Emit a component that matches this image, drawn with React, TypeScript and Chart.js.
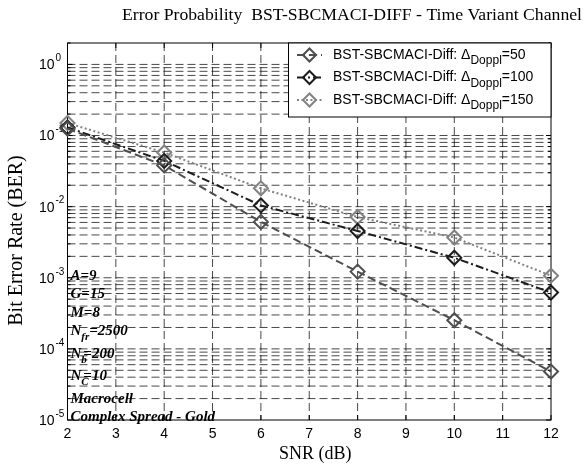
import { useEffect, useRef } from 'react';
import { Chart, registerables } from 'chart.js';

Chart.register(...registerables);

// ---- data ----
const snrDb = [2, 4, 6, 8, 10, 12];
const berDoppl50 = [0.125, 0.038, 0.0061, 0.00122, 0.000253, 0.000048];
const berDoppl100 = [0.13, 0.044, 0.0104, 0.00455, 0.00191, 0.00062];
const berDoppl150 = [0.15, 0.0577, 0.0181, 0.00715, 0.00368, 0.00107];
const dopplerValues = [50, 100, 150];
const xTickValues = [2, 3, 4, 5, 6, 7, 8, 9, 10, 11, 12];
const yDecadeExponents = [-5, -4, -3, -2, -1, 0];
const minorMultipliers = [1, 2, 3, 4, 5, 6, 7, 8, 9];
const titleText = 'Error Probability  BST-SBCMACI-DIFF - Time Variant Channel';
const xLabelText = 'SNR (dB)';
const yLabelText = 'Bit Error Rate (BER)';
const legendPrefix = 'BST-SBCMACI-Diff: \u0394';
const legendSub = 'Doppl';
const paramLabels: { base: string; sub?: string; rest?: string; after?: boolean }[] = [
  { base: 'A=9' },
  { base: 'G=15' },
  { base: 'M=8' },
  { base: 'N', sub: 'fr', rest: '=2500', after: true },
  { base: 'N', sub: 'b', rest: '=200' },
  { base: 'N', sub: 'C', rest: '=10' },
  { base: 'Macrocell' },
  { base: 'Complex Spread - Gold' },
];

const SANS = '"Liberation Sans", Arial, sans-serif';
const SERIF = '"Liberation Serif", "Times New Roman", serif';

const seriesStyles = [
  { color: '#4e4e4e', dash: [8, 4] },
  { color: '#1c1c1c', dash: [8, 3, 2, 3] },
  { color: '#828282', dash: [2, 2.5] },
];

function diamond(ctx: CanvasRenderingContext2D, x: number, y: number, r: number) {
  ctx.beginPath();
  ctx.moveTo(x, y - r);
  ctx.lineTo(x + r, y);
  ctx.lineTo(x, y + r);
  ctx.lineTo(x - r, y);
  ctx.closePath();
  ctx.stroke();
}

const matlabPlugin = {
  id: 'matlabLook',
  beforeDraw(chart: any) {
    const ctx = chart.ctx as CanvasRenderingContext2D;
    ctx.save();
    ctx.fillStyle = '#fff';
    ctx.fillRect(0, 0, chart.width, chart.height);
    ctx.restore();
  },
  beforeDatasetsDraw(chart: any) {
    const ctx = chart.ctx as CanvasRenderingContext2D;
    const { left, right, top, bottom } = chart.chartArea;
    const xs = chart.scales.x;
    const ys = chart.scales.y;
    const yMin = ys.min;
    const yMax = ys.max;
    ctx.save();

    // grid
    ctx.lineWidth = 1;
    ctx.strokeStyle = 'rgba(0,0,0,0.72)';
    ctx.setLineDash([8, 4]);
    for (const t of xTickValues) {
      if (t <= xs.min || t >= xs.max) continue;
      const px = xs.getPixelForValue(t);
      ctx.beginPath();
      ctx.moveTo(px, top);
      ctx.lineTo(px, bottom);
      ctx.stroke();
    }
    for (const d of yDecadeExponents) {
      for (const m of minorMultipliers) {
        const v = m * Math.pow(10, d);
        if (v <= yMin * 1.0001 || v >= yMax * 0.9999) continue;
        const py = ys.getPixelForValue(v);
        ctx.beginPath();
        ctx.moveTo(left, py);
        ctx.lineTo(right, py);
        ctx.stroke();
      }
    }
    ctx.setLineDash([]);

    // tick marks (inward)
    ctx.strokeStyle = '#000';
    for (const t of xTickValues) {
      const px = xs.getPixelForValue(t);
      ctx.beginPath();
      ctx.moveTo(px, bottom);
      ctx.lineTo(px, bottom - 5);
      ctx.moveTo(px, top);
      ctx.lineTo(px, top + 5);
      ctx.stroke();
    }
    for (const d of yDecadeExponents) {
      for (const m of minorMultipliers) {
        const v = m * Math.pow(10, d);
        if (v < yMin * 0.9999 || v > yMax * 1.0001) continue;
        const py = ys.getPixelForValue(v);
        const len = m === 1 ? 5 : 3;
        ctx.beginPath();
        ctx.moveTo(left, py);
        ctx.lineTo(left + len, py);
        ctx.moveTo(right, py);
        ctx.lineTo(right - len, py);
        ctx.stroke();
      }
    }

    // axes box
    ctx.lineWidth = 1;
    ctx.strokeRect(left, top, right - left, bottom - top);

    // x tick labels
    ctx.fillStyle = '#000';
    ctx.font = `14px ${SANS}`;
    ctx.textAlign = 'center';
    ctx.textBaseline = 'middle';
    for (const t of xTickValues) {
      ctx.fillText(String(t), xs.getPixelForValue(t), bottom + 14);
    }

    // y tick labels
    for (const d of yDecadeExponents) {
      const py = ys.getPixelForValue(Math.pow(10, d));
      ctx.font = `14px ${SANS}`;
      ctx.textAlign = 'right';
      ctx.textBaseline = 'middle';
      ctx.fillText('10', left - 13, py + 1);
      ctx.font = `10px ${SANS}`;
      ctx.textAlign = 'left';
      ctx.fillText(String(d), left - 12, py - 6);
    }

    // axis labels
    ctx.font = `18px ${SERIF}`;
    ctx.textAlign = 'center';
    ctx.textBaseline = 'middle';
    ctx.fillText(xLabelText, (left + right) / 2 + 6, bottom + 34);
    ctx.save();
    ctx.translate(17, (top + bottom) / 2 + 9);
    ctx.rotate(-Math.PI / 2);
    ctx.font = `20px ${SERIF}`;
    ctx.fillText(yLabelText, 0, 0);
    ctx.restore();

    // title
    ctx.font = `17.7px ${SERIF}`;
    ctx.textAlign = 'right';
    ctx.textBaseline = 'alphabetic';
    ctx.fillText(titleText, right + 31, 20);

    // parameter annotations
    const mainFont = `italic bold 15px ${SERIF}`;
    const subFont = `italic bold 11px ${SERIF}`;
    ctx.textAlign = 'left';
    ctx.textBaseline = 'middle';
    let ty = 276;
    let prevSub = false;
    paramLabels.forEach((p, i) => {
      if (i > 0) ty += prevSub ? 22.5 : 18.5;
      const tx = left + 3;
      ctx.font = mainFont;
      ctx.fillText(p.base, tx, ty);
      if (p.sub) {
        const bw = ctx.measureText(p.base).width;
        ctx.font = subFont;
        ctx.fillText(p.sub, tx + bw, ty + 6);
        const sw = ctx.measureText(p.sub).width;
        ctx.font = mainFont;
        ctx.fillText(p.rest || '', tx + bw + (p.after ? sw : 2), ty);
      }
      prevSub = !!p.sub;
    });

    ctx.restore();
  },
  afterDatasetsDraw(chart: any) {
    const ctx = chart.ctx as CanvasRenderingContext2D;
    const { right, top } = chart.chartArea;
    ctx.save();
    const bx = 288;
    const by = top;
    const bw = right - bx;
    const bh = 74;
    ctx.fillStyle = '#fff';
    ctx.fillRect(bx, by, bw, bh);
    ctx.strokeStyle = '#000';
    ctx.lineWidth = 1;
    ctx.strokeRect(bx + 0.5, by, bw - 0.5, bh);
    dopplerValues.forEach((dv, i) => {
      const yy = by + 12 + i * 22.5;
      const st = seriesStyles[i];
      ctx.strokeStyle = st.color;
      ctx.lineWidth = 2;
      ctx.setLineDash(st.dash);
      ctx.beginPath();
      ctx.moveTo(bx + 9, yy);
      ctx.lineTo(bx + 34, yy);
      ctx.stroke();
      ctx.setLineDash([]);
      diamond(ctx, bx + 21.5, yy, 6.5);
      ctx.fillStyle = '#000';
      ctx.textAlign = 'left';
      ctx.textBaseline = 'middle';
      ctx.font = `14px ${SANS}`;
      const tx = bx + 45;
      ctx.fillText(legendPrefix, tx, yy);
      const w1 = ctx.measureText(legendPrefix).width;
      ctx.font = `12px ${SANS}`;
      ctx.fillText(legendSub, tx + w1, yy + 6);
      const w2 = ctx.measureText(legendSub).width;
      ctx.font = `14px ${SANS}`;
      ctx.fillText('=' + dv, tx + w1 + w2, yy);
    });
    ctx.restore();
  },
};

export default function App() {
  const ref = useRef<HTMLCanvasElement | null>(null);
  useEffect(() => {
    document.body.style.margin = '0';
    const canvas = ref.current;
    if (!canvas) return;
    const seriesData = [berDoppl50, berDoppl100, berDoppl150];
    const chart = new Chart(canvas, {
      type: 'line',
      data: {
        datasets: seriesData.map((arr, i) => ({
          label: `${legendPrefix}${legendSub}=${dopplerValues[i]}`,
          data: snrDb.map((x, j) => ({ x, y: arr[j] })),
          borderColor: seriesStyles[i].color,
          borderDash: seriesStyles[i].dash,
          borderWidth: 2,
          pointStyle: 'rectRot',
          pointRadius: 7,
          pointBorderWidth: 2,
          pointBorderColor: seriesStyles[i].color,
          pointBackgroundColor: 'rgba(0,0,0,0)',
          tension: 0,
          fill: false,
          clip: false,
        })) as any,
      },
      options: {
        animation: false,
        responsive: false,
        devicePixelRatio: 1,
        layout: { padding: { left: 59.5, right: 35, top: 43, bottom: 48 } },
        scales: {
          x: {
            type: 'linear',
            min: 2,
            max: 12,
            ticks: { display: false, stepSize: 1 },
            grid: { display: false },
            border: { display: false },
          },
          y: {
            type: 'logarithmic',
            min: 1e-5,
            max: 2,
            ticks: { display: false },
            grid: { display: false },
            border: { display: false },
          },
        },
        plugins: { legend: { display: false }, tooltip: { enabled: false }, title: { display: false } },
      },
      plugins: [matlabPlugin],
    });
    return () => chart.destroy();
  }, []);
  return (
    <div style={{ width: 586, height: 476 }}>
      <canvas ref={ref} width={586} height={476} style={{ display: 'block', width: 586, height: 476 }} />
    </div>
  );
}
